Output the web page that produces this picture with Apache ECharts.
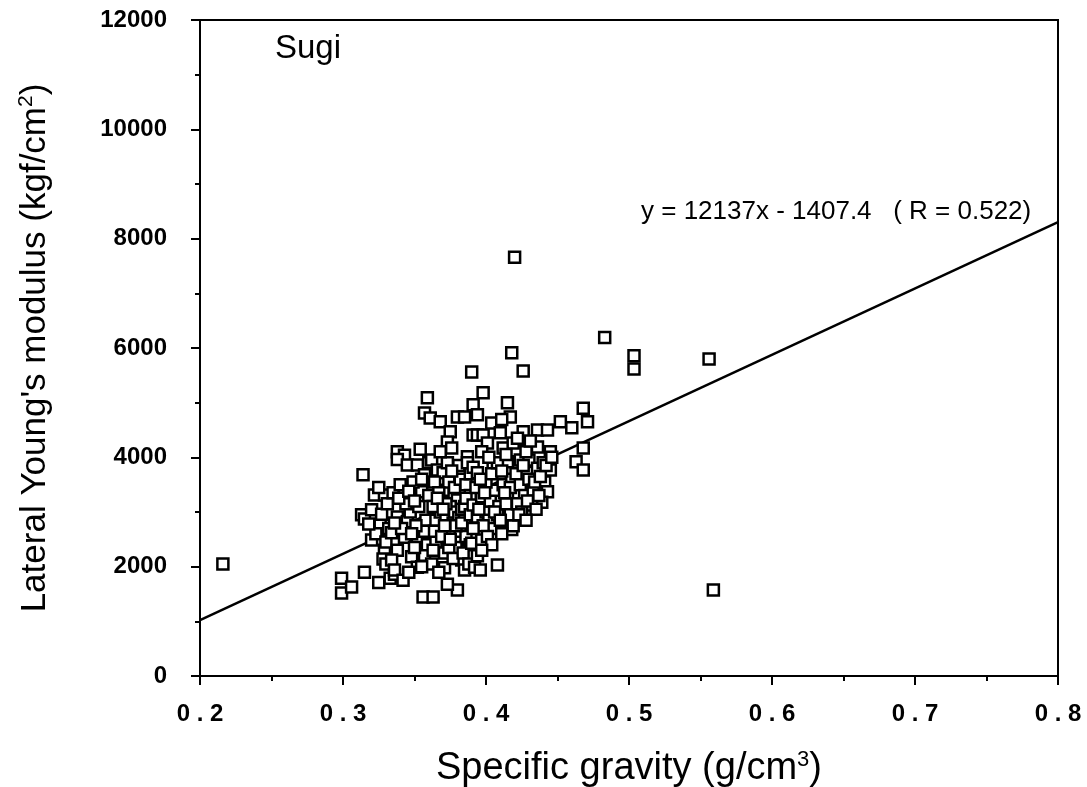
<!DOCTYPE html>
<html>
<head>
<meta charset="utf-8">
<script src="https://cdn.jsdelivr.net/npm/echarts@6/dist/echarts.min.js"></script>
<style>
html,body{margin:0;padding:0;background:#fff;}
#chart{width:1087px;height:787px;}
</style>
</head>
<body>
<div id="chart"></div>
<script>
// Tick settings
const xTicks = [0.2, 0.3, 0.4, 0.5, 0.6, 0.7, 0.8];
const yTicks = [0, 2000, 4000, 6000, 8000, 10000, 12000];

// Regression shown on chart: y = 12137x - 1407.4 (R = 0.522)
const slope = 12137;
const intercept = -1407.4;
const lineX = [0.2, 0.8];

// Isolated points
const outliers = [
  [0.216, 2050], [0.420, 7660], [0.483, 6190], [0.5035, 5856], [0.5035, 5618],
  [0.556, 5800], [0.559, 1574], [0.418, 5911], [0.426, 5581], [0.390, 5563]
];

// Band 0.296 - 0.33
const bandA = [
  [0.299,1790],[0.299,1520],[0.306,1630],[0.315,1900],[0.325,1710],[0.314,3680],[0.313,2950],
  [0.315,2870],[0.322,3310],[0.329,3310],[0.320,3040],[0.326,2760],[0.320,2490],[0.329,2300],
  [0.328,2140],[0.323,2600],[0.318,2780],[0.327,2960],[0.331,3150],[0.325,3450],[0.330,2050],
  [0.333,1790],[0.336,1860],[0.330,2450],[0.332,2700]
];

// Band 0.33 - 0.36
const bandB = [
  [0.335,3350],[0.343,3310],[0.355,3370],[0.338,2910],[0.345,2820],[0.334,2620],[0.343,2540],
  [0.352,2490],[0.338,2300],[0.348,2180],[0.357,2210],[0.334,2120],[0.336,1940],[0.352,1990],
  [0.338,4100],[0.343,4040],[0.338,3960],[0.345,3860],[0.352,3860],[0.357,3680],[0.359,5090],
  [0.357,4810],[0.361,4720],[0.356,1445],[0.342,1750],[0.346,1900],[0.350,2350],[0.341,2700],
  [0.347,3000],[0.353,3100],[0.358,2850],[0.349,3550],[0.355,3600],[0.340,3500],[0.360,3300],
  [0.357,2650],[0.351,2750],[0.344,3150],[0.339,3250],[0.360,3900],[0.354,4150],[0.359,2400],
  [0.348,2600],[0.346,3380],[0.350,3200],[0.336,2800],[0.362,2050],[0.355,2000]
];

// Band 0.36 - 0.39
const bandC = [
  [0.362,3950],[0.366,3770],[0.368,4650],[0.375,4470],[0.373,4280],[0.376,4170],[0.380,4740],
  [0.385,4740],[0.370,3720],[0.383,3680],[0.369,3260],[0.366,3070],[0.384,3350],[0.380,3220],
  [0.387,2730],[0.365,2450],[0.373,2670],[0.380,2490],[0.371,2250],[0.383,2120],[0.371,1980],
  [0.385,1940],[0.363,1445],[0.380,1575],[0.373,1680],[0.367,1900],[0.387,4010],[0.365,2850],
  [0.368,3000],[0.372,2900],[0.375,3100],[0.377,2800],[0.378,3000],[0.381,2900],[0.383,3050],
  [0.385,2850],[0.388,3150],[0.370,3400],[0.374,3550],[0.378,3450],[0.382,3600],[0.386,3500],
  [0.389,3300],[0.364,3550],[0.367,3350],[0.372,3150],[0.376,2650],[0.379,2350],[0.382,2650],
  [0.386,2550],[0.389,2400],[0.364,2650],[0.369,2550],[0.374,2350],[0.377,2150],[0.384,2250],
  [0.388,2050],[0.381,3850],[0.373,3900],[0.368,4100],[0.389,3700],[0.387,3900],[0.376,3750],
  [0.385,3100],[0.363,3100],[0.366,3250],[0.371,2750],[0.375,2500],[0.379,2750],[0.383,2800],
  [0.386,3250],[0.389,2950],[0.370,3050],[0.363,2300]
];

// Band 0.39 - 0.42
const bandD = [
  [0.391,4960],[0.394,4780],[0.398,5180],[0.391,4410],[0.394,4410],[0.398,4410],[0.391,3820],
  [0.415,5000],[0.417,4740],[0.404,4630],[0.411,4690],[0.412,4170],[0.401,4260],[0.415,3920],
  [0.405,3810],[0.419,4260],[0.394,3720],[0.391,3130],[0.397,3280],[0.394,2910],[0.390,2430],
  [0.397,2490],[0.392,1990],[0.396,1940],[0.408,2030],[0.394,2200],[0.418,2680],[0.419,2750],
  [0.400,3000],[0.403,3200],[0.406,3400],[0.409,3100],[0.412,3500],[0.415,3300],[0.418,3600],
  [0.400,3550],[0.404,3700],[0.408,3900],[0.411,3750],[0.414,4050],[0.417,3450],[0.393,3450],
  [0.396,3600],[0.399,3350],[0.402,2850],[0.405,2700],[0.408,2950],[0.411,2600],[0.414,3150],
  [0.417,2950],[0.395,3050],[0.398,2750],[0.401,2550],[0.404,2400],[0.397,2300],[0.391,2700],
  [0.410,4450],[0.397,4100],[0.402,4000],[0.413,3350],[0.406,3000],[0.410,2850]
];

// Band 0.42 - 0.475
const bandE = [
  [0.426,4470],[0.436,4500],[0.443,4500],[0.452,4650],[0.460,4540],[0.468,4900],[0.471,4650],
  [0.468,4170],[0.463,3920],[0.468,3770],[0.445,4100],[0.436,4190],[0.424,3950],[0.430,3950],
  [0.445,3770],[0.441,3550],[0.443,3370],[0.439,3180],[0.432,3130],[0.421,3700],[0.424,3500],
  [0.427,3300],[0.430,3600],[0.433,3400],[0.436,3800],[0.428,4100],[0.434,3550],[0.422,3150],
  [0.425,3000],[0.429,3200],[0.437,3300],[0.440,3900],[0.426,3850],[0.431,4300],[0.422,4350],
  [0.438,3650],[0.442,3850],[0.435,3050],[0.446,4000],[0.423,2950],[0.428,2850]
];

const samples = [].concat(bandA, bandB, bandC, bandD, bandE, outliers);
const fitLine = lineX.map(x => [x, slope * x + intercept]);

const FONT = '"Liberation Sans", Arial, Helvetica, sans-serif';
const chart = echarts.init(document.getElementById('chart'), null, {renderer: 'canvas'});

chart.setOption({
  backgroundColor: '#fff',
  animation: false,
  grid: {left: 200, right: 29, top: 20, bottom: 111, show: true, borderColor: '#000', borderWidth: 2,
    containLabel: false, outerBoundsMode: 'none'},
  xAxis: {
    type: 'value', min: 0.2, max: 0.8, interval: 0.1,
    name: 'Specific gravity (g/cm{sup|3})', nameLocation: 'middle', nameGap: 73,
    nameTextStyle: {fontFamily: FONT, fontSize: 38, color: '#000',
      rich: {sup: {fontFamily: FONT, fontSize: 22, color: '#000', padding: [0, 0, 18, 0]}}},
    axisLine: {show: true, lineStyle: {color: '#000', width: 2}},
    axisTick: {show: true, inside: false, length: 9, lineStyle: {color: '#000', width: 2}},
    minorTick: {show: true, splitNumber: 2, length: 5, lineStyle: {color: '#000', width: 2}},
    splitLine: {show: false},
    axisLabel: {margin: 26, color: '#000', fontFamily: FONT, fontSize: 24, fontWeight: 'bold',
      formatter: v => v.toFixed(1).split('').join(' ')}
  },
  yAxis: {
    type: 'value', min: 0, max: 12000, interval: 2000,
    name: "Lateral Young's modulus (kgf/cm{sup|2})", nameLocation: 'middle', nameGap: 146,
    nameTextStyle: {fontFamily: FONT, fontSize: 35, color: '#000',
      rich: {sup: {fontFamily: FONT, fontSize: 21, color: '#000', padding: [0, 0, 17, 0]}}},
    axisLine: {show: true, lineStyle: {color: '#000', width: 2}},
    axisTick: {show: true, inside: false, length: 9, lineStyle: {color: '#000', width: 2}},
    minorTick: {show: true, splitNumber: 2, length: 5, lineStyle: {color: '#000', width: 2}},
    splitLine: {show: false},
    axisLabel: {margin: 33, color: '#000', fontFamily: FONT, fontSize: 24, fontWeight: 'bold',
      formatter: v => String(v)}
  },
  series: [
    {
      type: 'line', data: fitLine, symbol: 'none', silent: true, z: 1,
      lineStyle: {color: '#000', width: 2.5}
    },
    {
      type: 'scatter', data: samples, symbol: 'rect', symbolSize: 11, z: 2,
      itemStyle: {color: '#fff', borderColor: '#000', borderWidth: 2.5, opacity: 1}
    }
  ],
  graphic: [
    {type: 'text', left: 275, top: 32, style: {text: 'Sugi', fontFamily: FONT, fontSize: 33, fill: '#000'}},
    {type: 'text', left: 641, top: 199, style: {text: 'y = 12137x - 1407.4   ( R = 0.522)', fontFamily: FONT, fontSize: 26, fill: '#000'}}
  ]
});
</script>
</body>
</html>
